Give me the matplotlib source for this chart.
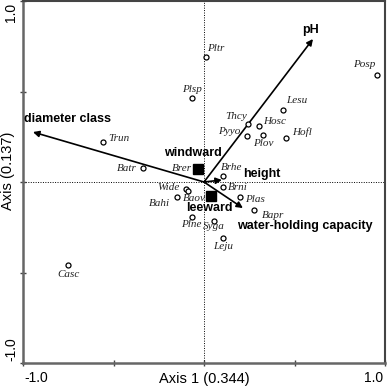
import matplotlib
matplotlib.use("Agg")
import matplotlib.pyplot as plt

# species scores
species = ["Pltr", "Posp", "Lesu", "Thcy", "Hosc", "Pyyo", "Plov", "Hofl",
           "Brhe", "Brni", "Plas", "Bapr", "Syga", "Leju", "Plsp", "Trun",
           "Batr", "Brer", "Wide", "Baov", "Bahi", "Plne", "Casc"]
axis1 = [0.011, 0.956, 0.436, 0.243, 0.304, 0.238, 0.326, 0.453,
         0.105, 0.105, 0.199, 0.276, 0.055, 0.105, -0.066, -0.558,
         -0.337, -0.033, -0.099, -0.088, -0.149, -0.066, -0.751]
axis2 = [0.691, 0.591, 0.398, 0.320, 0.309, 0.254, 0.260, 0.243,
         0.033, -0.028, -0.083, -0.155, -0.215, -0.309, 0.464, 0.221,
         0.077, 0.066, -0.039, -0.050, -0.083, -0.193, -0.459]

# environmental vectors
env_vars = ["pH", "diameter class", "height", "water-holding capacity"]
env_x = [0.602, -0.945, 0.099, 0.215]
env_y = [0.790, 0.276, 0.011, -0.144]

# centroids
cent_names = ["windward", "leeward"]
cent_x = [-0.033, 0.039]
cent_y = [0.072, -0.077]

# label placement: (dx px, dy px, ha)
sp_lab = {
    "Pltr": (1, 8, "left"), "Posp": (-2, 11, "right"), "Lesu": (3, 9, "left"),
    "Thcy": (-1, 8, "right"), "Hosc": (4, 5, "left"), "Pyyo": (-7, 5, "right"),
    "Plov": (0, -9, "center"), "Hofl": (6, 6, "left"), "Brhe": (-2, 9, "left"),
    "Brni": (5, 0, "left"), "Plas": (5, -2, "left"), "Bapr": (8, -5, "left"),
    "Syga": (0, -6, "center"), "Leju": (0, -9, "center"), "Plsp": (0, 9, "center"),
    "Trun": (5, 3, "left"), "Batr": (-6, 0, "right"), "Brer": (-6, 2, "right"),
    "Wide": (-6, 2, "right"), "Baov": (-5, -7, "left"), "Bahi": (-7, -6, "right"),
    "Plne": (-1, -8, "center"), "Casc": (0, -9, "center"),
}
env_lab = {
    "pH": (0.591, 0.840, "center"),
    "diameter class": (-0.994, 0.348, "left"),
    "height": (0.215, 0.044, "left"),
    "water-holding capacity": (0.182, -0.243, "left"),
}
cent_lab = {
    "windward": (-0.061, 0.160, "center"),
    "leeward": (-0.099, -0.144, "left"),
}

fig = plt.figure(figsize=(3.87, 3.88), dpi=100)
ax = fig.add_axes([23 / 387, 1 - 363 / 388, 362 / 387, 362 / 388])
ax.set_xlim(-1, 1)
ax.set_ylim(-1, 1)

ax.axhline(0, color="black", lw=0.7, ls=(0, (1, 1.5)), zorder=1)
ax.axvline(0, color="black", lw=0.7, ls=(0, (1, 1.5)), zorder=1)

# arrows
for name, x, y in zip(env_vars, env_x, env_y):
    ax.annotate("", xy=(x, y), xytext=(0, 0),
                arrowprops=dict(arrowstyle="-|>", mutation_scale=9, lw=1.2,
                                color="black", shrinkA=0, shrinkB=0), zorder=3)
    tx, ty, ha = env_lab[name]
    ax.text(tx, ty, name, ha=ha, va="center", fontsize=9, fontweight="bold",
            family="Liberation Sans", zorder=5)

# species
ax.plot(axis1, axis2, "o", ms=3.6, mfc="white", mec="black", mew=0.9, zorder=4)
for name, x, y in zip(species, axis1, axis2):
    dx, dy, ha = sp_lab[name]
    ax.annotate(name, (x, y), xytext=(dx, dy), textcoords="offset pixels",
                ha=ha, va="center", fontsize=8, style="italic",
                family="Liberation Serif", color="#222222", zorder=5)

# centroids
ax.plot(cent_x, cent_y, "s", ms=7, color="black", zorder=6)
for name in cent_names:
    tx, ty, ha = cent_lab[name]
    ax.text(tx, ty, name, ha=ha, va="center", fontsize=9, fontweight="bold",
            family="Liberation Sans", zorder=5)

# frame and ticks
for s in ["left", "bottom"]:
    ax.spines[s].set_color("#666666")
    ax.spines[s].set_linewidth(1.8)
for s in ["top", "right"]:
    ax.spines[s].set_color("#444444")
    ax.spines[s].set_linewidth(1.5)

ax.set_xticks([-1, -0.5, 0, 0.5, 1])
ax.set_yticks([-1, -0.5, 0, 0.5, 1])
ax.set_xticklabels(["", "", "", "", ""])
ax.set_yticklabels(["", "", "", "", ""])
ax.tick_params(direction="inout", length=4, width=1, color="#444444")

ax.text(0.005, -0.041, "-1.0", transform=ax.transAxes, ha="left", va="center",
        fontsize=10, family="Liberation Sans")
ax.text(0.995, -0.041, "1.0", transform=ax.transAxes, ha="right", va="center",
        fontsize=10, family="Liberation Sans")
ax.text(-0.032, 0.995, "1.0", transform=ax.transAxes, ha="center", va="top",
        rotation=90, fontsize=10, family="Liberation Sans")
ax.text(-0.032, 0.005, "-1.0", transform=ax.transAxes, ha="center", va="bottom",
        rotation=90, fontsize=10, family="Liberation Sans")

ax.text(0.5, -0.044, "Axis 1 (0.344)", transform=ax.transAxes, ha="center",
        va="center", fontsize=10.5, family="Liberation Sans")
ax.text(-0.041, 0.53, "Axis (0.137)", transform=ax.transAxes, ha="center",
        va="center", rotation=90, fontsize=10.5, family="Liberation Sans")

fig.savefig("out.png", dpi=100)
